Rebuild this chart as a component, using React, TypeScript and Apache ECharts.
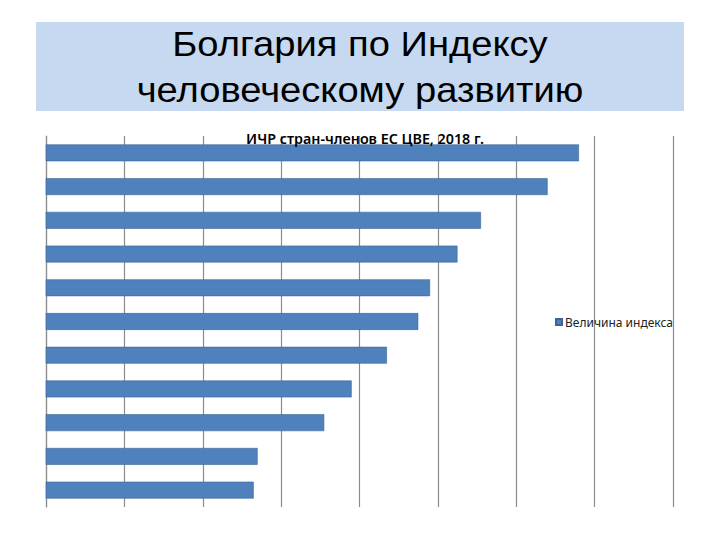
import React, { useEffect, useRef } from "react";
import * as echarts from "echarts";

// Categories listed bottom to top (ECharts category y axis starts at bottom)
const countries = [
  "Болгария",
  "Румыния",
  "Хорватия",
  "Венгрия",
  "Латвия",
  "Словакия",
  "Литва",
  "Польша",
  "Эстония",
  "Чехия",
  "Словения",
];
const hdiValues = [0.813, 0.814, 0.831, 0.838, 0.847, 0.855, 0.858, 0.865, 0.871, 0.888, 0.896];
const axisMin = 0.76;
const axisMax = 0.92;
const axisStep = 0.02;
const seriesName = "Величина индекса";
const titleLines = ["Болгария по Индексу", "человеческому развитию"];
const chartTitle = "ИЧР стран-членов ЕС ЦВЕ, 2018 г.";

export default function App() {
  const ref = useRef<HTMLDivElement>(null);
  useEffect(() => {
    if (!ref.current) return;
    const chart = echarts.init(ref.current, undefined, { renderer: "svg" });
    chart.setOption({
      animation: false,
      backgroundColor: "#ffffff",
      graphic: [
        {
          type: "rect",
          shape: { x: 36, y: 22, width: 648, height: 89 },
          style: { fill: "#c6d9f1" },
          z: -1,
        },
        {
          type: "text",
          x: 360,
          y: 27,
          scaleX: 1.09,
          style: {
            text: titleLines[0],
            fontFamily: "Liberation Sans",
            fontSize: 35,
            fill: "#000000",
            align: "center",
            verticalAlign: "top",
          },
        },
        {
          type: "text",
          x: 360,
          y: 73,
          scaleX: 1.09,
          style: {
            text: titleLines[1],
            fontFamily: "Liberation Sans",
            fontSize: 35,
            fill: "#000000",
            align: "center",
            verticalAlign: "top",
          },
        },
      ],
      title: {
        text: chartTitle,
        left: 360,
        textAlign: "center",
        top: 126,
        textStyle: {
          fontFamily: "Noto Sans",
          fontSize: 14.3,
          fontWeight: 600,
          color: "#000000",
        },
        z: 10,
      },
      legend: {
        data: [seriesName],
        left: 550,
        top: 311,
        itemWidth: 6,
        itemHeight: 6,
        itemGap: 4,
        icon: "rect",
        textStyle: { fontFamily: "Noto Sans", fontSize: 12, color: "#222222", padding: [0, 0, 0, -2] },
      },
      grid: { left: 46, right: 47, top: 136, bottom: 33, containLabel: false },
      xAxis: {
        type: "value",
        min: axisMin,
        max: axisMax,
        interval: axisStep,
        axisLabel: { show: false },
        axisTick: { show: false },
        axisLine: { show: false },
        splitLine: { show: true, lineStyle: { color: "#8c8c8c", width: 1.2 } },
      },
      yAxis: {
        type: "category",
        data: countries,
        axisLabel: { show: false },
        axisTick: { show: false },
        axisLine: { show: true, lineStyle: { color: "#8c8c8c", width: 1.2 } },
        splitLine: { show: false },
      },
      series: [
        {
          name: seriesName,
          type: "bar",
          data: hdiValues,
          barCategoryGap: "50%",
          itemStyle: { color: "#4f81bd", borderColor: "#3c6596", borderWidth: 0.6 },
        },
      ],
    });
    return () => chart.dispose();
  }, []);
  return (
    <div
      ref={ref}
      style={{ position: "fixed", left: 0, top: 0, width: 720, height: 540 }}
    />
  );
}
